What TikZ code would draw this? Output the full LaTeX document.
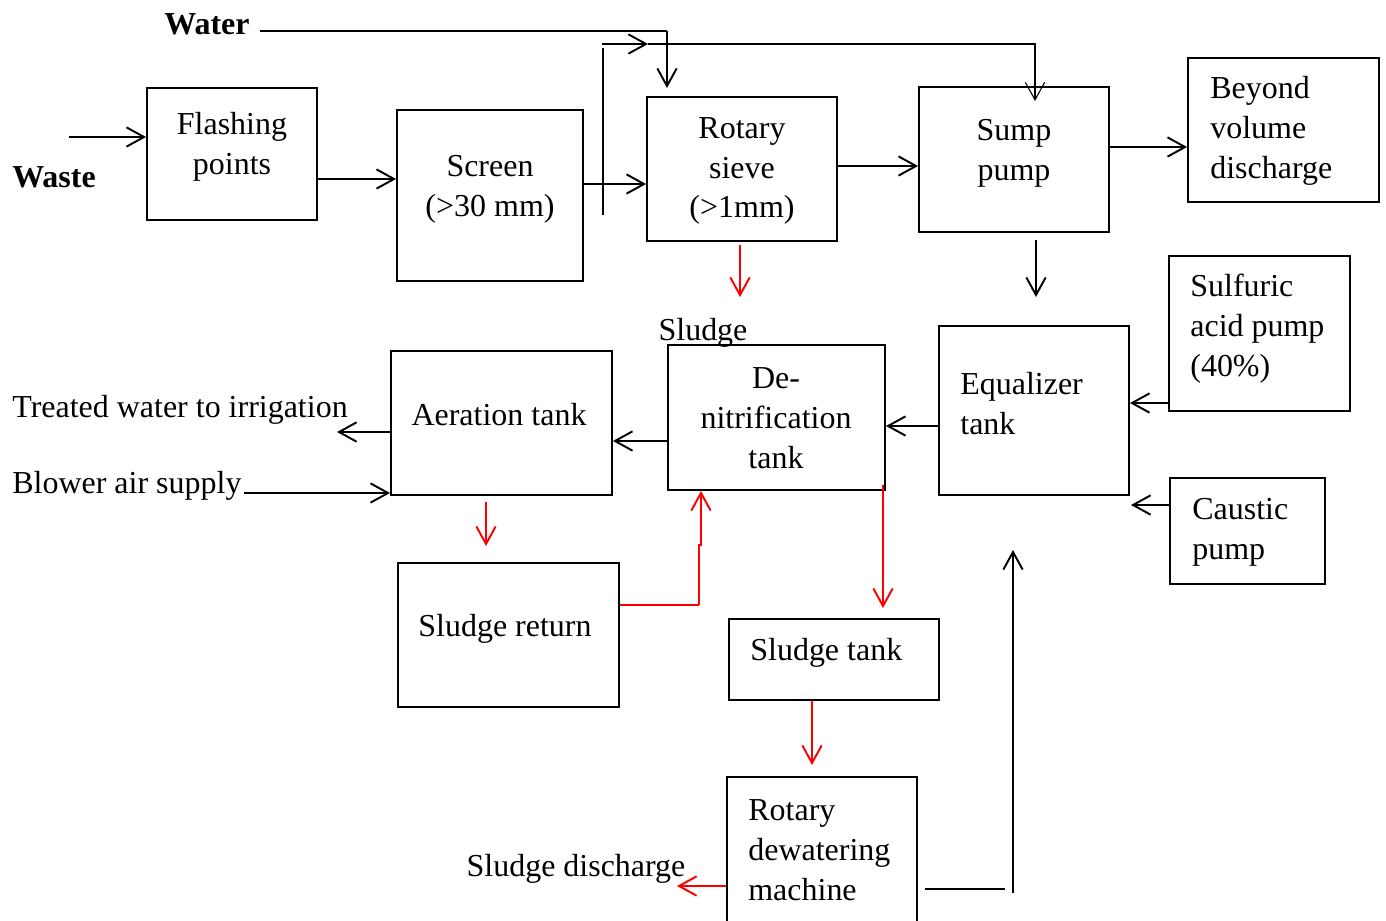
\documentclass[tikz,border=0pt]{standalone}
\usepackage{fontspec}
\setmainfont{Liberation Serif}
\usetikzlibrary{arrows.meta}
\begin{document}
\begin{tikzpicture}[x=0.02cm,y=-0.02cm,
  box/.style={draw,line width=1.1pt,inner sep=0pt,rectangle},
  txt/.style={inner sep=0pt,font=\fontsize{18.2}{22.7}\selectfont},
  arr/.style={line width=1.1pt,-{Straight Barb[length=10pt,width=11pt]}},
  thinarr/.style={line width=0.6pt,-{Straight Barb[length=10pt,width=11pt]}},
  thin/.style={line width=0.6pt},
  rarr/.style={arr,red},
]
\useasboundingbox (0,0) rectangle (1386,920);
\clip (0,0) rectangle (1386,920);
% boxes
\node[box,minimum width=3.4cm,minimum height=2.64cm] (flash) at (232,154) {};
\node[box,minimum width=3.72cm,minimum height=3.42cm] (screen) at (490,195.5) {};
\node[box,minimum width=3.8cm,minimum height=2.88cm] (rotary) at (742,169) {};
\node[box,minimum width=3.8cm,minimum height=2.9cm] (sump) at (1014,159.5) {};
\node[box,minimum width=3.82cm,minimum height=2.88cm] (beyond) at (1283.5,130) {};
\node[box,minimum width=3.62cm,minimum height=3.1cm] (sulf) at (1259.5,333.5) {};
\node[box,minimum width=3.8cm,minimum height=3.38cm] (equal) at (1034,410.5) {};
\node[box,minimum width=3.1cm,minimum height=2.12cm] (caustic) at (1247.5,531) {};
\node[box,minimum width=4.34cm,minimum height=2.9cm] (denit) at (776.5,417.5) {};
\node[box,minimum width=4.42cm,minimum height=2.88cm] (aer) at (501.5,423) {};
\node[box,minimum width=4.42cm,minimum height=2.88cm] (sret) at (508.5,635) {};
\node[box,minimum width=4.2cm,minimum height=1.62cm] (stank) at (834,659.5) {};
\node[box,minimum width=3.8cm,minimum height=3.4cm] (dew) at (822,862) {};
% texts in boxes
\node[txt,align=center] (tflash) at (232,147) {Flashing\\points};
\node[txt,align=center] (tscreen) at (490,189) {Screen\\(>30 mm)};
\node[txt,align=center] (trotary) at (742,171) {Rotary\\sieve\\(>1mm)};
\node[txt,align=center] (tsump) at (1014,153) {Sump\\pump};
\node[txt,align=left,anchor=west] (tbeyond) at (1210,131) {Beyond\\volume\\discharge};
\node[txt,align=left,anchor=west] (tsulf) at (1190,329) {Sulfuric\\acid pump\\(40\%)};
\node[txt,align=left,anchor=west] (tequal) at (960,403.5) {Equalizer\\tank};
\node[txt,align=left,anchor=west] (tcaustic) at (1192,532.5) {Caustic\\pump};
\node[txt,align=center] (tdenit) at (776,418.5) {De-\\nitrification\\tank};
\node[txt] (taer) at (499,415) {Aeration tank};
\node[txt] (tsret) at (505,628.5) {Sludge return};
\node[txt,anchor=west] (tstank) at (750,652.5) {Sludge tank};
\node[txt,align=left,anchor=west] (tdew) at (748,850.5) {Rotary\\dewatering\\machine};
% free labels
\node[txt,font=\fontsize{18.2}{22.7}\selectfont\bfseries] (lwater) at (207,24.5) {Water};
\node[txt,font=\fontsize{18.2}{22.7}\selectfont\bfseries] (lwaste) at (54,177.5) {Waste};
\node[txt] (lsludge) at (703,332.5) {Sludge};
\node[txt,anchor=west] (ltreated) at (12,409.5) {Treated water to irrigation};
\node[txt,anchor=west] (lblower) at (12,485.5) {Blower air supply};
\node[txt] (ldis) at (576,868.5) {Sludge discharge};
% coordinates
\coordinate (wastein) at (69,137);
\coordinate (waterin) at (260,31);
\coordinate (bypass) at (603,215);
\coordinate (rsA) at (740,245);
\coordinate (rsB) at (740,297);
\coordinate (seA) at (1036,240);
\coordinate (seB) at (1036,297);
\coordinate (treatedout) at (337,432);
\coordinate (blowerin) at (244,493);
\coordinate (arA) at (486,502);
\coordinate (arB) at (486,546);
\coordinate (disout) at (677,886);
\coordinate (retA) at (925,889);
\coordinate (retB) at (1005,889);
\coordinate (retC) at (1013,893);
\coordinate (retD) at (1013,550);
% black connectors
\draw[arr] (wastein) -- (wastein -| flash.west);
\draw[arr] (flash.east |- 0,179) -- (screen.west |- 0,179);
\draw[arr] (screen.east |- 0,184) -- (rotary.west |- 0,184);
\draw[arr] (rotary.east |- 0,166) -- (sump.west |- 0,166);
\draw[arr] (sump.east |- 0,147) -- (beyond.west |- 0,147);
\draw[thin] (waterin) -- (667,31);
\draw[arr] (667,31) -- (667,88);
\draw[thin] (bypass) -- (603,48);
\draw[arr] (602,44) -- (648,44);
\draw[thinarr] (648,44) -- (1035,44) -- (1035,101);
\draw[arr] (seA) -- (seB);
\draw[arr] (sulf.west |- 0,403) -- (equal.east |- 0,403);
\draw[arr] (caustic.west |- 0,505) -- (1131,505);
\draw[arr] (equal.west |- 0,426) -- (denit.east |- 0,426);
\draw[arr] (denit.west |- 0,441) -- (aer.east |- 0,441);
\draw[arr] (aer.west |- 0,432) -- (treatedout);
\draw[arr] (blowerin) -- (aer.west |- 0,493);
\draw[thin] (retA) -- (retB);
\draw[arr] (retC) -- (retD);
% red connectors
\draw[rarr] (rsA) -- (rsB);
\draw[rarr] (arA) -- (arB);
\draw[red,line width=0.6pt] (sret.east |- 0,605) -- (699,605);
\draw[rarr] (699,605) -- (699,545) -- (701,545) -- (701,0 |- denit.south);
\draw[rarr] (883,485) -- (883,608);
\draw[rarr] (stank.south -| 812,0) -- (812,765);
\draw[rarr] (dew.west |- 0,886) -- (disout);
\end{tikzpicture}
\end{document}
